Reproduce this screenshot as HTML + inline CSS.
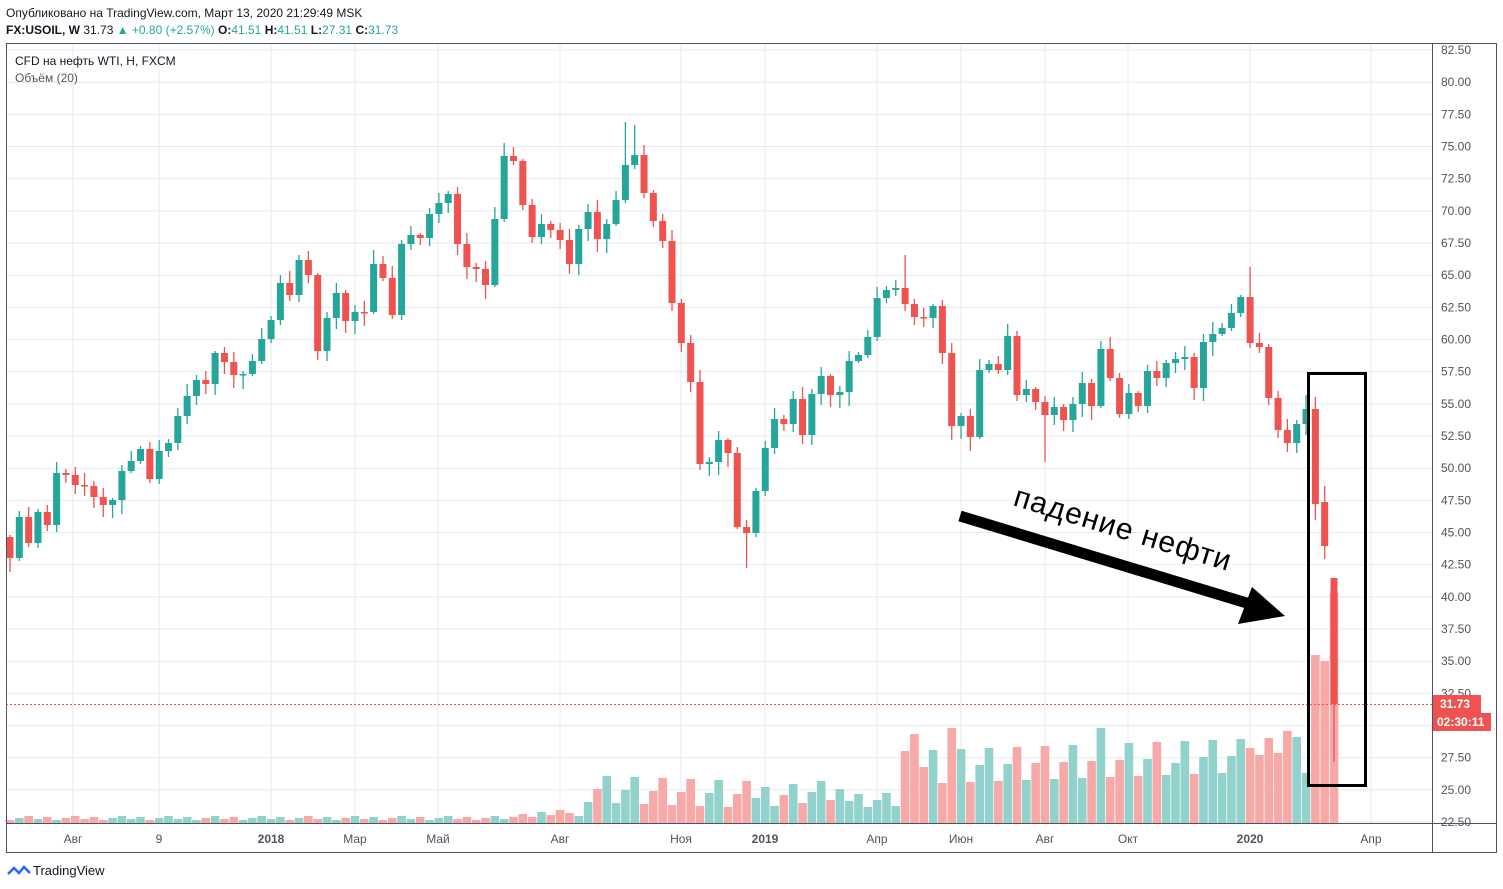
<!DOCTYPE html>
<html><head><meta charset="utf-8"><style>
html,body{margin:0;padding:0;background:#fff;width:1503px;height:889px;overflow:hidden;font-family:"Liberation Sans","DejaVu Sans",sans-serif}
</style></head><body>
<svg id="s" width="1503" height="889" xmlns="http://www.w3.org/2000/svg" style="position:absolute;left:0;top:0">
<text x="6" y="17" font-size="12" fill="#131722">Опубликовано на TradingView.com, Март 13, 2020 21:29:49 MSK</text>
<text x="6" y="34" font-size="12" fill="#131722"><tspan font-weight="bold">FX:USOIL, W</tspan> 31.73 <tspan fill="#26a69a">▲ +0.80 (+2.57%)</tspan> <tspan font-weight="bold">O:</tspan><tspan fill="#26a69a">41.51</tspan> <tspan font-weight="bold">H:</tspan><tspan fill="#26a69a">41.51</tspan> <tspan font-weight="bold">L:</tspan><tspan fill="#26a69a">27.31</tspan> <tspan font-weight="bold">C:</tspan><tspan fill="#26a69a">31.73</tspan></text>
<g id="grid"></g>
<g id="vol"></g>
<g id="cand"></g>
<rect x="6.5" y="43.5" width="1490" height="809" fill="none" stroke="#50535e" stroke-width="1"/>
<line x1="1432.5" y1="43" x2="1432.5" y2="853" stroke="#50535e"/>
<line x1="6" y1="823.5" x2="1497" y2="823.5" stroke="#50535e"/>
<text x="15" y="65" font-size="12" fill="#131722">CFD на нефть WTI, Н, FXCM</text>
<text x="15" y="82" font-size="12" fill="#555">Объём (20)</text>
<line x1="6" y1="704.5" x2="1432" y2="704.5" stroke="#ef5350" stroke-dasharray="2,2"/>
<g id="labels"></g>
<rect x="1433" y="695" width="48" height="18" fill="#ef5350"/>
<text x="1440" y="708" font-size="12" font-weight="bold" fill="#fff">31.73</text>
<rect x="1433" y="713" width="58" height="18" fill="#ef5350"/>
<text x="1437" y="726" font-size="12" font-weight="bold" fill="#fff">02:30:11</text>
<line x1="960" y1="516" x2="1250" y2="604" stroke="#000" stroke-width="11"/>
<polygon points="1285,616 1238,624 1252,587" fill="#000"/>
<text x="1012" y="505" font-size="30" fill="#000" transform="rotate(17 1012 505)" letter-spacing="1">падение нефти</text>
<rect x="1308.5" y="373.5" width="57" height="412" fill="none" stroke="#000" stroke-width="3"/>
<g transform="translate(8,864)"><path d="M0 10 L6 4 L11 9 L16 3 L22 9" fill="none" stroke="#2962ff" stroke-width="2.5"/></g>
<text x="33" y="875" font-size="13" fill="#131722">TradingView</text>
</svg>
<script>
var NS="http://www.w3.org/2000/svg";
function el(p,t,a,txt){var e=document.createElementNS(NS,t);for(var k in a)e.setAttribute(k,a[k]);if(txt!==undefined)e.textContent=txt;document.getElementById(p).appendChild(e);}
for(var gi=0;gi<=24;gi++){var pr=82.5-gi*2.5;var gy=50+gi*32.17;
 el("grid","line",{x1:6,x2:1432,y1:gy,y2:gy,stroke:"#e4eaf0"});
 el("labels","text",{x:1441,y:gy+4,"font-size":12,fill:"#50535e"},pr.toFixed(2));}
var tl=[["Авг",73,0],["9",159,0],["2018",271,1],["Мар",355,0],["Май",438,0],["Авг",560,0],["Ноя",681,0],["2019",765,1],["Апр",877,0],["Июн",961,0],["Авг",1045,0],["Окт",1128,0],["2020",1250,1],["Апр",1371,0]];
tl.forEach(function(t){el("grid","line",{x1:t[1],x2:t[1],y1:43,y2:823,stroke:"#e4eaf0"});
 el("labels","text",{x:t[1],y:843,"font-size":12,fill:"#50535e","text-anchor":"middle","font-weight":t[2]?"bold":"normal"},t[0]);});
var c=[558,517,543,512,525,473,475,485,486,497,505,500,471,461,449,479,451,443,416,396,380,384,353,362,375,374,361,339,320,283,295,260,275,351,318,293,321,312,312,264,278,315,244,235,238,214,203,194,244,267,269,285,219,156,161,205,237,224,230,240,264,229,212,239,224,200,165,155,193,221,241,303,343,382,464,462,440,453,527,533,491,448,419,424,399,435,394,376,395,392,361,355,337,298,290,288,304,317,318,306,353,426,416,437,370,364,370,336,395,389,402,415,407,420,404,383,406,349,378,414,393,406,371,378,363,359,357,388,342,334,328,313,297,343,347,398,430,443,424,409,504,546,704];
var hiO={66:122,67:125,133:267,141:486,142:578,79:520,96:255,42:240,53:143,39:250,139:395};
var loO={142:762,79:568,74:470,101:440,0:572,111:462,140:520};
var bw=7;
for(var ci=0;ci<c.length;ci++){
 var op=ci==0?537:c[ci-1];if(ci==142)op=578;if(ci==141)op=502;
 var cl=c[ci];var cx=10+ci*9.324;var isUp=cl<op;
 var col=isUp?"#26a69a":"#ef5350";
 var bt=Math.min(op,cl),bb=Math.max(op,cl);
 var r1=((ci*37)%11)+2,r2=((ci*53)%13)+2;
 var hv=hiO[ci]||bt-r1,lv=loO[ci]||bb+r2;
 var v;
 if(ci<55)v=3+((ci*7)%5);
 else if(ci<62)v=6+((ci*5)%8);
 else if(ci<80)v=15+((ci*13)%40);
 else if(ci<90)v=15+((ci*11)%30);
 else if(ci<96)v=12+((ci*7)%20);
 else if(ci<140)v=40+((ci*17)%50);
 else v=[168,162,230][ci-140];
 if(ci==101)v=95;if(ci==117)v=95; if(ci==125)v=60; if(ci==133)v=75;if(ci==137)v=92;if(ci==136)v=70;if(ci==139)v=50;
 el("vol","rect",{x:cx-4.3,y:823-v,width:8.6,height:v,fill:isUp?"#92d2cc":"#f7a9a7"});
 el("cand","line",{x1:cx,x2:cx,y1:hv,y2:lv,stroke:col,"stroke-width":1.3});
 el("cand","rect",{x:cx-bw/2,y:bt,width:bw,height:Math.max(bb-bt,1.5),fill:col});
}
</script>
</body></html>
